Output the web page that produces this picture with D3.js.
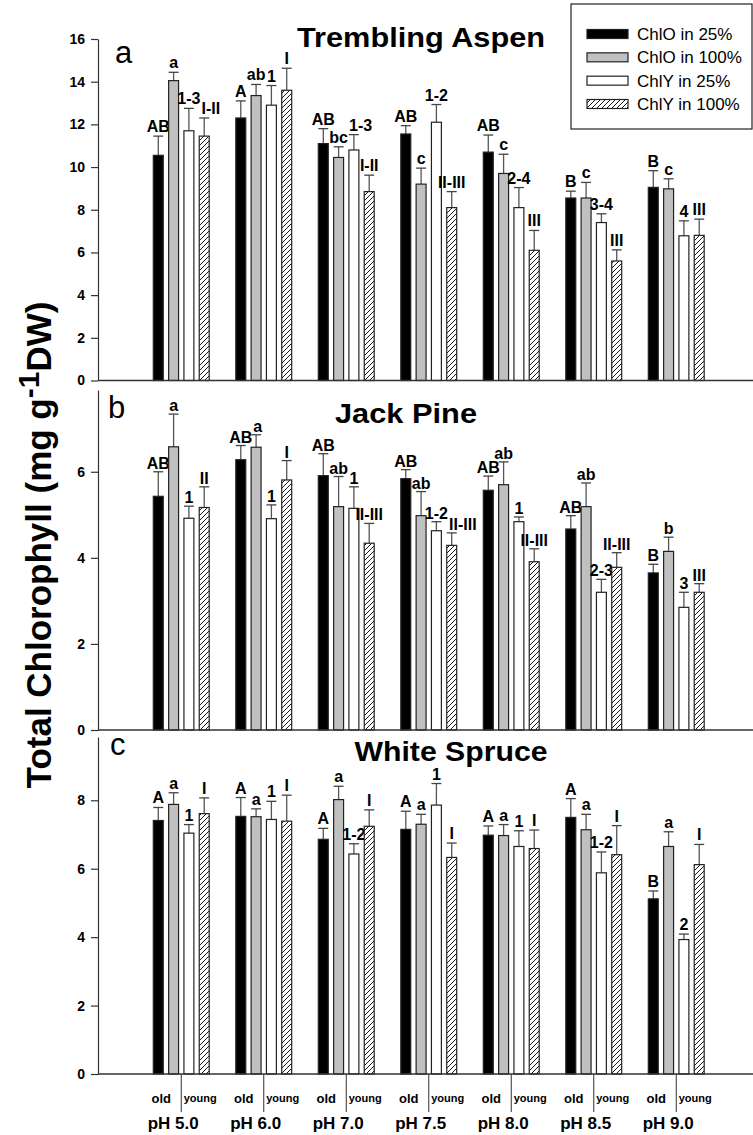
<!DOCTYPE html>
<html>
<head>
<meta charset="utf-8">
<script src="https://cdn.jsdelivr.net/npm/d3@7"></script>
<style>
  html, body { margin: 0; padding: 0; background: #fff; }
  svg { display: block; font-family: "Liberation Sans", Arial, sans-serif; }
</style>
</head>
<body>
<svg id="chart" width="753" height="1135"></svg>
<script>
// ---------- data ----------
const categories = ["pH 5.0", "pH 6.0", "pH 7.0", "pH 7.5", "pH 8.0", "pH 8.5", "pH 9.0"];
const seriesNames = ["ChlO in 25%", "ChlO in 100%", "ChlY in 25%", "ChlY in 100%"];

// Trembling Aspen (means, SE, letters)
const aspenOld25 = [10.55, 12.3, 11.1, 11.55, 10.7, 8.55, 9.05];
const aspenOld100 = [14.05, 13.35, 10.45, 9.2, 9.7, 8.55, 8.98];
const aspenYoung25 = [11.7, 12.9, 10.8, 12.1, 8.1, 7.4, 6.78];
const aspenYoung100 = [11.45, 13.6, 8.85, 8.1, 6.1, 5.6, 6.8];
const aspenOld25SE = [0.9, 0.8, 0.7, 0.39, 0.8, 0.32, 0.78];
const aspenOld100SE = [0.39, 0.52, 0.5, 0.75, 0.9, 0.73, 0.47];
const aspenYoung25SE = [1.05, 0.92, 0.72, 0.83, 0.94, 0.41, 0.7];
const aspenYoung100SE = [0.85, 1.03, 0.77, 0.75, 0.93, 0.52, 0.76];
const aspenOld25Lbl = ["AB", "A", "AB", "AB", "AB", "B", "B"];
const aspenOld100Lbl = ["a", "ab", "bc", "c", "c", "c", "c"];
const aspenYoung25Lbl = ["1-3", "1", "1-3", "1-2", "2-4", "3-4", "4"];
const aspenYoung100Lbl = ["I-II", "I", "I-II", "II-III", "III", "III", "III"];

// Jack Pine
const pineOld25 = [5.43, 6.28, 5.91, 5.84, 5.57, 4.67, 3.65];
const pineOld100 = [6.58, 6.57, 5.19, 4.98, 5.7, 5.19, 4.15];
const pineYoung25 = [4.92, 4.91, 5.15, 4.63, 4.84, 3.2, 2.85];
const pineYoung100 = [5.17, 5.81, 4.34, 4.29, 3.91, 3.78, 3.2];
const pineOld25SE = [0.57, 0.33, 0.51, 0.21, 0.33, 0.31, 0.2];
const pineOld100SE = [0.76, 0.29, 0.7, 0.56, 0.53, 0.55, 0.33];
const pineYoung25SE = [0.28, 0.32, 0.5, 0.21, 0.11, 0.3, 0.35];
const pineYoung100SE = [0.48, 0.45, 0.46, 0.29, 0.3, 0.34, 0.2];
const pineOld25Lbl = ["AB", "AB", "AB", "AB", "AB", "AB", "B"];
const pineOld100Lbl = ["a", "a", "ab", "ab", "ab", "ab", "b"];
const pineYoung25Lbl = ["1", "1", "1", "1-2", "1", "2-3", "3"];
const pineYoung100Lbl = ["II", "I", "II-III", "II-III", "II-III", "II-III", "III"];

// White Spruce
const spruceOld25 = [7.41, 7.53, 6.86, 7.15, 6.98, 7.5, 5.12];
const spruceOld100 = [7.88, 7.52, 8.02, 7.3, 6.97, 7.14, 6.65];
const spruceYoung25 = [7.04, 7.44, 6.43, 7.86, 6.65, 5.88, 3.93];
const spruceYoung100 = [7.61, 7.39, 7.24, 6.33, 6.59, 6.41, 6.12];
const spruceOld25SE = [0.38, 0.55, 0.32, 0.53, 0.27, 0.55, 0.23];
const spruceOld100SE = [0.34, 0.23, 0.39, 0.29, 0.32, 0.45, 0.43];
const spruceYoung25SE = [0.25, 0.53, 0.3, 0.63, 0.46, 0.61, 0.16];
const spruceYoung100SE = [0.46, 0.76, 0.48, 0.42, 0.54, 0.85, 0.59];
const spruceOld25Lbl = ["A", "A", "A", "A", "A", "A", "B"];
const spruceOld100Lbl = ["a", "a", "a", "a", "a", "a", "a"];
const spruceYoung25Lbl = ["1", "1", "1-2", "1", "1", "1-2", "2"];
const spruceYoung100Lbl = ["I", "I", "I", "I", "I", "I", "I"];

const aspenTicks = [0, 2, 4, 6, 8, 10, 12, 14, 16];
const pineTicks = [0, 2, 4, 6];
const spruceTicks = [0, 2, 4, 6, 8];
const subLabels = ["old", "young"];

// ---------- panels ----------
const panels = [
  { letter: "a", title: "Trembling Aspen", max: 16, ticks: aspenTicks,
    means: [aspenOld25, aspenOld100, aspenYoung25, aspenYoung100],
    se: [aspenOld25SE, aspenOld100SE, aspenYoung25SE, aspenYoung100SE],
    lbl: [aspenOld25Lbl, aspenOld100Lbl, aspenYoung25Lbl, aspenYoung100Lbl],
    y0: 380.5, y1: 39, titleX: 421, titleY: 47, titleLen: 248, letterX: 115, letterY: 63 },
  { letter: "b", title: "Jack Pine", max: 7.9, ticks: pineTicks,
    means: [pineOld25, pineOld100, pineYoung25, pineYoung100],
    se: [pineOld25SE, pineOld100SE, pineYoung25SE, pineYoung100SE],
    lbl: [pineOld25Lbl, pineOld100Lbl, pineYoung25Lbl, pineYoung100Lbl],
    y0: 730, y1: 390, titleX: 406, titleY: 423, titleLen: 142, letterX: 108, letterY: 418 },
  { letter: "c", title: "White Spruce", max: 9.85, ticks: spruceTicks,
    means: [spruceOld25, spruceOld100, spruceYoung25, spruceYoung100],
    se: [spruceOld25SE, spruceOld100SE, spruceYoung25SE, spruceYoung100SE],
    lbl: [spruceOld25Lbl, spruceOld100Lbl, spruceYoung25Lbl, spruceYoung100Lbl],
    y0: 1074, y1: 737, titleX: 451, titleY: 761, titleLen: 193, letterX: 110, letterY: 755 }
];

const svg = d3.select("#chart");
svg.append("rect").attr("width", 753).attr("height", 1135).attr("fill", "#fff");
const defs = svg.append("defs");
const pat = defs.append("pattern").attr("id", "hatch")
  .attr("patternUnits", "userSpaceOnUse").attr("width", 5).attr("height", 5);
pat.append("rect").attr("width", 5).attr("height", 5).attr("fill", "#fff");
pat.append("path").attr("d", "M-1,1 l2,-2 M0,5 l5,-5 M4,6 l2,-2")
  .attr("stroke", "#000").attr("stroke-width", 0.9);

const fills = ["#000000", "#c0c0c0", "#ffffff", "url(#hatch)"];
const axisLeftX = 98;
const axisRightX = 753;

const x = d3.scaleBand().domain(categories).range([140, 717.5]).paddingInner(0).paddingOuter(0);
const xs = d3.scaleBand().domain(seriesNames).range([-31, 31]).paddingInner(0.35).paddingOuter(0.2);

panels.forEach((p, pi) => {
  const y = d3.scaleLinear().domain([0, p.max]).range([p.y0, p.y1]);
  const g = svg.append("g");

  // y axis
  const ax = g.append("g").attr("transform", `translate(${axisLeftX},0)`)
    .call(d3.axisLeft(y).tickValues(p.ticks).tickSizeInner(7).tickSizeOuter(0).tickPadding(6).tickFormat(d3.format("d")));
  ax.select(".domain").attr("stroke", "#333").attr("stroke-width", 1.2);
  ax.selectAll(".tick line").attr("stroke", "#333").attr("stroke-width", 1.2);
  ax.selectAll(".tick text").attr("font-size", 14).attr("font-weight", "bold")
    .attr("fill", "#000").attr("font-family", "Liberation Sans, Arial, sans-serif");

  const labelSel = [];
  seriesNames.forEach((s, si) => {
    const gs = g.append("g");
    const rows = categories.map((c, ci) => ({ c, ci, v: p.means[si][ci], e: p.se[si][ci], t: p.lbl[si][ci] }));
    const bx = d => x(d.c) + x.bandwidth() / 2 + xs(s);
    const bw = xs.bandwidth();
    gs.selectAll("line.err").data(rows).join("line").attr("class", "err")
      .attr("x1", d => bx(d) + bw / 2).attr("x2", d => bx(d) + bw / 2)
      .attr("y1", d => y(d.v)).attr("y2", d => y(d.v + d.e))
      .attr("stroke", "#555").attr("stroke-width", 1.3);
    gs.selectAll("line.cap").data(rows).join("line").attr("class", "cap")
      .attr("x1", d => bx(d)).attr("x2", d => bx(d) + bw)
      .attr("y1", d => y(d.v + d.e)).attr("y2", d => y(d.v + d.e))
      .attr("stroke", "#444").attr("stroke-width", 1.3);
    gs.selectAll("rect").data(rows).join("rect")
      .attr("x", d => bx(d)).attr("width", bw)
      .attr("y", d => y(d.v)).attr("height", d => y(0) - y(d.v))
      .attr("fill", fills[si]).attr("stroke", "#222").attr("stroke-width", 1.2);
    const ts = gs.selectAll("text").data(rows).join("text")
      .attr("x", d => bx(d) + bw / 2).attr("y", d => y(d.v + d.e) - (pi === 1 ? 3 : 4))
      .attr("text-anchor", "middle").attr("font-size", 16).attr("font-weight", "bold")
      .text(d => d.t);
    labelSel.push(ts);
  });

  // nudge labels right when they collide with the previous label of the same group
  categories.forEach((c, ci) => {
    let prev = null;
    labelSel.forEach(sel => {
      const node = sel.nodes()[ci];
      let b = node.getBBox();
      if (prev && b.x < prev.x + prev.width + 1 &&
          b.y < prev.y + prev.height - 3 && b.y + b.height - 3 > prev.y) {
        const shift = prev.x + prev.width + 1 - b.x;
        node.setAttribute("x", +node.getAttribute("x") + shift);
        b = node.getBBox();
      }
      prev = b;
    });
  });

  // x axis baseline across full width
  g.append("line").attr("x1", axisLeftX).attr("x2", axisRightX)
    .attr("y1", y(0)).attr("y2", y(0)).attr("stroke", "#333").attr("stroke-width", 1.3);

  // title & panel letter
  g.append("text").attr("x", p.titleX).attr("y", p.titleY).attr("text-anchor", "middle")
    .attr("font-size", 28).attr("font-weight", "bold")
    .attr("textLength", p.titleLen).attr("lengthAdjust", "spacingAndGlyphs").text(p.title);
  g.append("text").attr("x", p.letterX).attr("y", p.letterY)
    .attr("font-size", 31).text(p.letter);

  if (pi === 2) {
    const xa = g.append("g").attr("transform", `translate(0,${y(0)})`)
      .call(d3.axisBottom(x).tickSizeInner(38).tickSizeOuter(0).tickFormat(""));
    xa.select(".domain").remove();
    xa.selectAll(".tick line").attr("stroke", "#333").attr("stroke-width", 1);
    const lab = g.append("g");
    categories.forEach(c => {
      const cx = x(c) + x.bandwidth() / 2;
      lab.append("text").attr("x", cx - 20).attr("y", y(0) + 29).attr("text-anchor", "middle")
        .attr("font-size", 13).attr("font-weight", "bold").text(subLabels[0]);
      lab.append("text").attr("x", cx + 19).attr("y", y(0) + 28).attr("text-anchor", "middle")
        .attr("font-size", 11).attr("font-weight", "bold").text(subLabels[1]);
      lab.append("text").attr("x", cx - 8).attr("y", y(0) + 55).attr("text-anchor", "middle")
        .attr("font-size", 17).attr("font-weight", "bold").text(c);
    });
  }
});

// y-axis title
const yt = svg.append("text").attr("transform", "translate(51,545) rotate(-90)")
  .attr("text-anchor", "middle").attr("font-size", 35).attr("font-weight", "bold");
yt.append("tspan").text("Total Chlorophyll (mg g");
yt.append("tspan").attr("dy", -12).attr("font-size", 30).text("-1");
yt.append("tspan").attr("dy", 12).text("DW)");

// legend
const lg = svg.append("g");
lg.append("rect").attr("x", 571).attr("y", 4).attr("width", 181).attr("height", 125)
  .attr("fill", "#fff").attr("stroke", "#222").attr("stroke-width", 1.2);
const ly = d3.scalePoint().domain(seriesNames).range([34, 104]);
seriesNames.forEach((s, si) => {
  lg.append("rect").attr("x", 587).attr("y", ly(s) - 4.5).attr("width", 41).attr("height", 9)
    .attr("fill", fills[si]).attr("stroke", "#222").attr("stroke-width", 1.2);
  lg.append("text").attr("x", 637).attr("y", ly(s) + 6).attr("font-size", 17).text(s);
});
</script>
</body>
</html>
